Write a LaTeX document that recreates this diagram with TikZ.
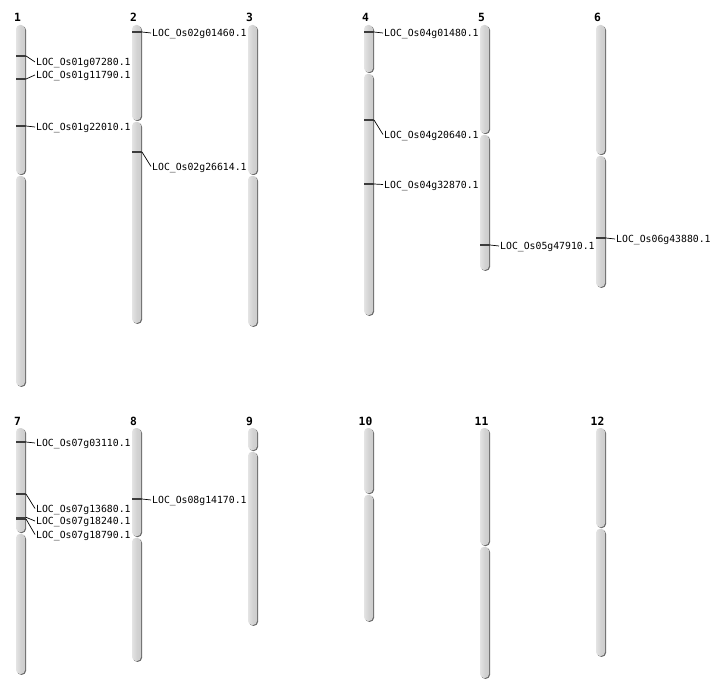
\documentclass[tikz,border=0pt]{standalone}
\usepackage{fontspec}
\newfontfamily\lblfont{DejaVu Sans Mono}
\definecolor{bodyL}{RGB}{228,228,228}
\definecolor{bodyM}{RGB}{211,211,211}
\definecolor{bodyR}{RGB}{204,204,204}
\definecolor{shadowc}{RGB}{105,105,105}
\definecolor{markc}{RGB}{60,60,60}
\tikzset{
  chrshadow/.style={fill=shadowc},
  mkline/.style={draw=markc, line width=1.4pt},
  conn/.style={draw=black, line width=0.7pt},
  lbl/.style={anchor=west, inner sep=1pt, font=\lblfont\fontsize{9.8}{10}\selectfont, text height=7.3pt, text depth=0pt},
  numlbl/.style={anchor=base, inner sep=0pt, font=\lblfont\bfseries\fontsize{11.3}{12}\selectfont}
}
% arm: x, y1, y2
\newcommand\chrarm[3]{%
  \fill[chrshadow,rounded corners=4pt] ({#1+1},{#2+1}) rectangle ({#1+10},{#3+0.8});
  \shade[left color=bodyL, right color=bodyR, middle color=bodyM, rounded corners=4pt] (#1,#2) rectangle ({#1+9},#3);
}
% chromosome: name, label, x, top, cent, bottom
\newcommand\chromo[6]{%
  \chrarm{#3}{#4}{#5-0.8}
  \chrarm{#3}{#5+0.8}{#6}
  \coordinate (#1) at (#3,#4);
  \node[numlbl] (#1n) at ({#3+1.5},{#4-3}) {#2};
}
% marker: name, x(left of chromosome), mark y, label y, text
\newcommand\gmark[5]{%
  \coordinate (#1s) at (#2,#3);
  \coordinate (#1e) at ({#2+10},#3);
  \node[lbl] (#1l) at ({#2+19},#4) {#5};
  \draw[mkline] (#1s) -- (#1e);
  \draw[conn] (#1e) -- (#1l.west);
}
\begin{document}
\begin{tikzpicture}[x=1pt,y=-1pt]
\useasboundingbox (0,0) rectangle (712,700);
\chromo{c1}{1}{16}{25}{175}{386}
\chromo{c2}{2}{132}{25}{121}{323}
\chromo{c3}{3}{248}{25}{175}{326}
\chromo{c4}{4}{364}{25}{73}{315}
\chromo{c5}{5}{480}{25}{134}{270}
\chromo{c6}{6}{596}{25}{155}{287}
\chromo{c7}{7}{16}{428}{533}{674}
\chromo{c8}{8}{132}{428}{537}{661}
\chromo{c9}{9}{248}{428}{451}{625}
\chromo{c10}{10}{364}{428}{494}{621}
\chromo{c11}{11}{480}{428}{546}{678}
\chromo{c12}{12}{596}{428}{528}{656}
% chromosome 1
\gmark{ma}{16}{56}{62}{LOC\_Os01g07280.1}
\gmark{mb}{16}{79}{75}{LOC\_Os01g11790.1}
\gmark{mc}{16}{126}{127}{LOC\_Os01g22010.1}
% chromosome 2
\gmark{md}{132}{32}{33}{LOC\_Os02g01460.1}
\gmark{me}{132}{152}{166.5}{LOC\_Os02g26614.1}
% chromosome 4
\gmark{mf}{364}{32}{33}{LOC\_Os04g01480.1}
\gmark{mg}{364}{120}{134.5}{LOC\_Os04g20640.1}
\gmark{mh}{364}{184}{184.5}{LOC\_Os04g32870.1}
% chromosome 5
\gmark{mi}{480}{245}{246}{LOC\_Os05g47910.1}
% chromosome 6
\gmark{mj}{596}{238}{239}{LOC\_Os06g43880.1}
% chromosome 7
\gmark{mk}{16}{442}{443}{LOC\_Os07g03110.1}
\gmark{ml}{16}{494}{508.5}{LOC\_Os07g13680.1}
\gmark{mm}{16}{517.3}{521}{LOC\_Os07g18240.1}
\gmark{mn}{16}{519}{534.5}{LOC\_Os07g18790.1}
% chromosome 8
\gmark{mo}{132}{499}{500}{LOC\_Os08g14170.1}
\end{tikzpicture}
\end{document}
